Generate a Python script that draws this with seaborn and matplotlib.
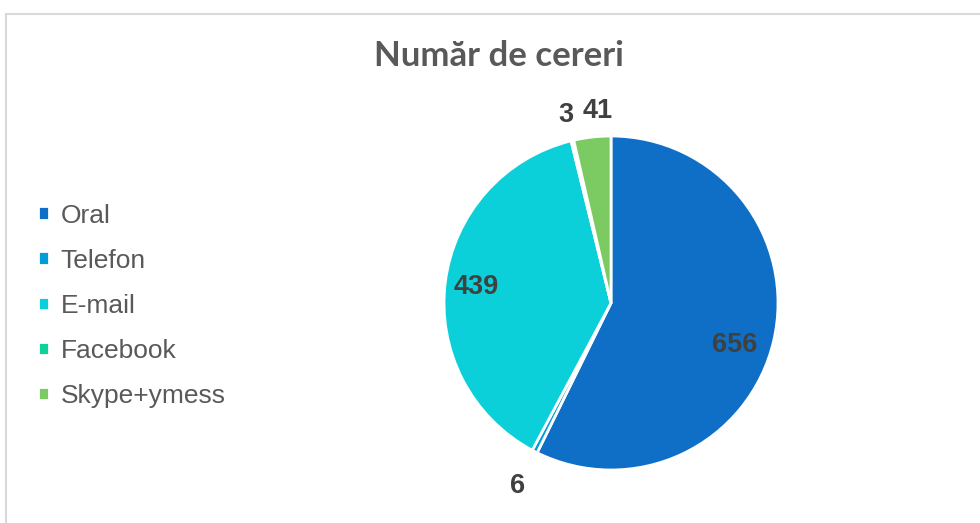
import matplotlib
matplotlib.use("Agg")
import matplotlib.pyplot as plt
import seaborn as sns
import numpy as np
from matplotlib.patches import Rectangle

categories = ["Oral", "Telefon", "E-mail", "Facebook", "Skype+ymess"]
values = [656, 6, 439, 3, 41]
colors = ["#0F6FC6", "#009DD9", "#0BD0D9", "#10CF9B", "#7CCA62"]
title = "Număr de cereri"

sns.set_theme(style="white")
plt.rcParams['font.family'] = ['Liberation Sans', 'DejaVu Sans']
palette = sns.color_palette(colors)

W, H = 980, 523
fig = plt.figure(figsize=(W / 100, H / 100), dpi=100)
fig.patch.set_facecolor("white")

# chart border
fig.patches.append(Rectangle((6 / W, -0.05), 1.0, (H - 14) / H + 0.05, transform=fig.transFigure,
                             fill=False, edgecolor="#D9D9D9", linewidth=1.5))

cx, cy, r = 611, H - 303, 167
ax = fig.add_axes([(cx - r) / W, (cy - r) / H, 2 * r / W, 2 * r / H])
wedges, _ = ax.pie(values, colors=palette, startangle=90, counterclock=False,
                   radius=1, wedgeprops=dict(edgecolor="white", linewidth=2))
ax.set_xlim(-1, 1)
ax.set_ylim(-1, 1)
ax.set_aspect("equal")
ax.axis("off")

dists = [0.78, 1.23, 0.81, 1.16, 1.15]
ang_off = [-5.5, 0, 0.5, 0, -2.5]
for w, v, d, o in zip(wedges, values, dists, ang_off):
    ang = np.deg2rad((w.theta1 + w.theta2) / 2 + o)
    ax.text(d * np.cos(ang), d * np.sin(ang), str(v), ha="center", va="center",
            fontsize=19.5, fontweight="bold", color="#404040", clip_on=False)

fig.text(499 / W, 1 - 56 / H, title, ha="center", va="center", fontsize=25,
         fontweight="bold", color="#595959", family=["Lato", "DejaVu Sans"])

leg = fig.legend(wedges, categories, loc="upper left", bbox_to_anchor=(27 / W, 1 - 193 / H),
                 frameon=False, fontsize=19, handlelength=0.42, handleheight=0.42,
                 handletextpad=0.45, labelspacing=0.8, borderaxespad=0)
for t in leg.get_texts():
    t.set_color("#595959")

fig.savefig("out.png", dpi=100, facecolor="white")
